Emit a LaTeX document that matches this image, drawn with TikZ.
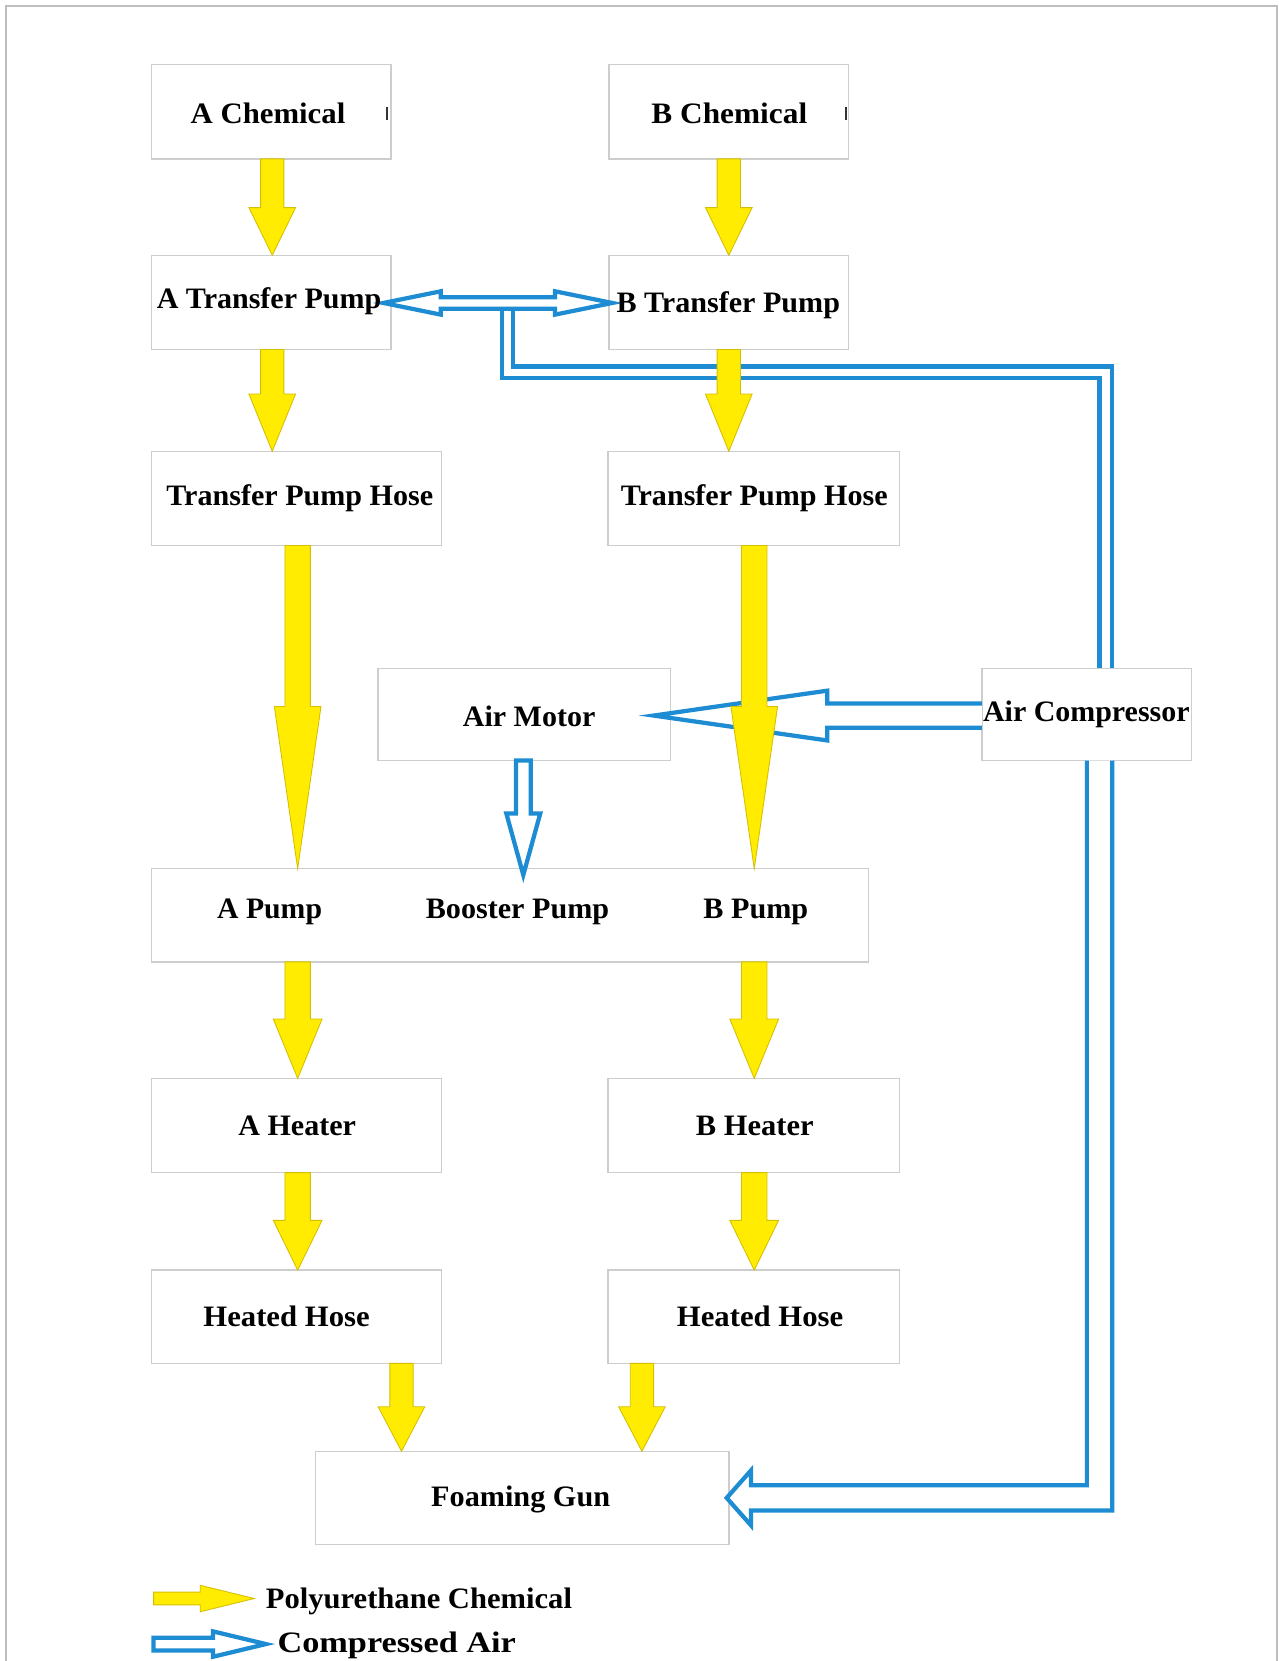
\documentclass[tikz,border=0pt]{standalone}
\usepackage{fontspec}
\setmainfont{Liberation Serif}
\usepackage{graphicx}
\usetikzlibrary{calc}
\definecolor{yfill}{RGB}{255,236,0}
\definecolor{yline}{RGB}{214,190,0}
\definecolor{bcol}{RGB}{30,140,210}
\definecolor{bgray}{RGB}{205,205,205}
\definecolor{fgray}{RGB}{190,190,190}
\tikzset{
  box/.style={draw=bgray, line width=0.7pt, fill=white, inner sep=0pt, outer sep=0pt},
  lbl/.style={font=\bfseries\fontsize{14pt}{16pt}\selectfont, inner sep=0pt, anchor=base},
  yarrow/.style={fill=yfill, draw=yline, line width=0.4pt, line join=miter},
  barrow/.style={draw=bcol, line width=2pt, line join=miter, fill=white},
  bpath/.style={draw=bcol, line width=2pt, line join=miter},
  frame/.style={draw=fgray, line width=1pt},
  tickmk/.style={draw=black!80, line width=1.1pt}
}
% yellow down arrow: from, to, x (units), head length, shaft half width, head half width
\newcommand\ydown[6]{%
  \path[yarrow] let \p1=(#1.south), \p2=(#2.north), \n1={#3*0.5pt}, \n2={#5*0.5pt},
      \n3={#6*0.5pt}, \n4={\y2+#4*0.5pt} in
    (\n1-\n2,\y1) -- (\n1-\n2,\n4) -- (\n1-\n3,\n4) -- (\n1,\y2) -- (\n1+\n3,\n4)
    -- (\n1+\n2,\n4) -- (\n1+\n2,\y1) -- cycle;}
\newcommand\lab[4]{\node[lbl] (#1) at (#2) {\resizebox{#3pt}{\height}{#4}};}
\begin{document}
\begin{tikzpicture}[x=0.5pt,y=-0.5pt]
\useasboundingbox (0,0) rectangle (1207,1568);
\fill[white] (0,0) rectangle (1207,1568);
\draw[frame] (5.7,1575) -- (5.7,5.7) -- (1205.5,5.7) -- (1205.5,1575);

% boxes
\node[box, minimum width=113pt, minimum height=44.5pt] (Achem) at (256,105.5) {};
\node[box, minimum width=113pt, minimum height=44.5pt] (Bchem) at (688,105.5) {};
\node[box, minimum width=113pt, minimum height=44.5pt] (Atp) at (256,285.5) {};
\node[box, minimum width=113pt, minimum height=44.5pt] (Btp) at (688,285.5) {};
\node[box, minimum width=137pt, minimum height=44.5pt] (Atph) at (280,470.5) {};
\node[box, minimum width=137.5pt, minimum height=44.5pt] (Btph) at (711.5,470.5) {};
\node[box, minimum width=138pt, minimum height=43.5pt] (Amotor) at (495,674.5) {};
\node[box, minimum width=99pt, minimum height=43.5pt] (Acomp) at (1026,674.5) {};
\node[box, minimum width=338.5pt, minimum height=44pt] (Pumps) at (481.5,864) {};
\node[box, minimum width=137pt, minimum height=44.5pt] (Aheat) at (280,1062.5) {};
\node[box, minimum width=137.5pt, minimum height=44.5pt] (Bheat) at (711.5,1062.5) {};
\node[box, minimum width=137pt, minimum height=44pt] (Ahose) at (280,1243) {};
\node[box, minimum width=137.5pt, minimum height=44pt] (Bhose) at (711.5,1243) {};
\node[box, minimum width=195pt, minimum height=44pt] (Gun) at (493,1414) {};

% compressed air (blue hollow arrows)
\draw[barrow] (362,286) -- (416,275) -- (416,280.5) -- (524,280.5) -- (524,275) -- (578,286)
  -- (524,297) -- (524,291.5) -- (416,291.5) -- (416,297) -- cycle;
\draw[bpath] (474,291.5) -- (474,357) -- (1038,357) -- (1038,631);
\draw[bpath] (484,291.5) -- (484,346) -- (1050,346) -- (1050,631);
\draw[barrow] (927,664) -- (781,664) -- (781,652) -- (617,675.5) -- (781,699) -- (781,687) -- (927,687);
\draw[barrow] (487,718) -- (487,768) -- (478,768) -- (494,826) -- (510,768) -- (501,768) -- (501,718) -- cycle;
\draw[barrow] (1026,718) -- (1026,1402) -- (709,1402) -- (709,1388) -- (686,1414) -- (709,1440)
  -- (709,1426) -- (1050,1426) -- (1050,718);

% polyurethane chemical (yellow arrows)
\ydown{Achem}{Atp}{257}{45}{11}{22}
\ydown{Bchem}{Btp}{688}{45}{11}{22}
\ydown{Atp}{Atph}{257}{54}{11}{22}
\ydown{Btp}{Btph}{688}{54}{11}{22}
\ydown{Atph}{Pumps}{281}{153}{12}{22}
\ydown{Btph}{Pumps}{712}{153}{12}{22}
\ydown{Pumps}{Aheat}{281}{56}{12}{23}
\ydown{Pumps}{Bheat}{712}{56}{12}{23}
\ydown{Aheat}{Ahose}{281}{47}{12}{23}
\ydown{Bheat}{Bhose}{712}{47}{12}{23}
\ydown{Ahose}{Gun}{379}{42}{11}{22}
\ydown{Bhose}{Gun}{606}{42}{11}{22}

% small marks at the right of the chemical labels
\draw[tickmk] (365.5,101) -- (365.5,113);
\draw[tickmk] (798.5,101) -- (798.5,113);

% labels
\lab{tAchem}{253,116.5}{73}{A Chemical}
\lab{tBchem}{688.5,116.5}{73.5}{B Chemical}
\lab{tAtp}{254,291}{106}{A Transfer Pump}
\lab{tBtp}{687.5,295}{105.5}{B Transfer Pump}
\lab{tAtph}{283,477}{126}{Transfer Pump Hose}
\lab{tBtph}{712,477}{126}{Transfer Pump Hose}
\lab{tAmotor}{499.5,686}{62.5}{Air Motor}
\lab{tAcomp}{1025.5,681}{97.5}{Air Compressor}
\lab{tApump}{254.5,867}{49.5}{A Pump}
\lab{tBooster}{488.5,867}{86.5}{Booster Pump}
\lab{tBpump}{713.5,867}{49.5}{B Pump}
\lab{tAheat}{280.5,1072}{55.5}{A Heater}
\lab{tBheat}{712.5,1072}{55.5}{B Heater}
\lab{tAhose}{270.5,1252}{78.5}{Heated Hose}
\lab{tBhose}{717.5,1252}{78.5}{Heated Hose}
\lab{tGun}{491.5,1422}{84.5}{Foaming Gun}

% legend
\path[yarrow] (145,1503) -- (189,1503) -- (189,1496.5) -- (240,1509) -- (189,1521.5) -- (189,1515) -- (145,1515) -- cycle;
\draw[barrow] (145,1546) -- (201,1546) -- (201,1540) -- (251,1552) -- (201,1564) -- (201,1558) -- (145,1558) -- cycle;
\lab{tLegY}{395.5,1518}{144.5}{Polyurethane Chemical}
\lab{tLegB}{374.5,1560}{112.5}{Compressed Air}
\end{tikzpicture}
\end{document}
